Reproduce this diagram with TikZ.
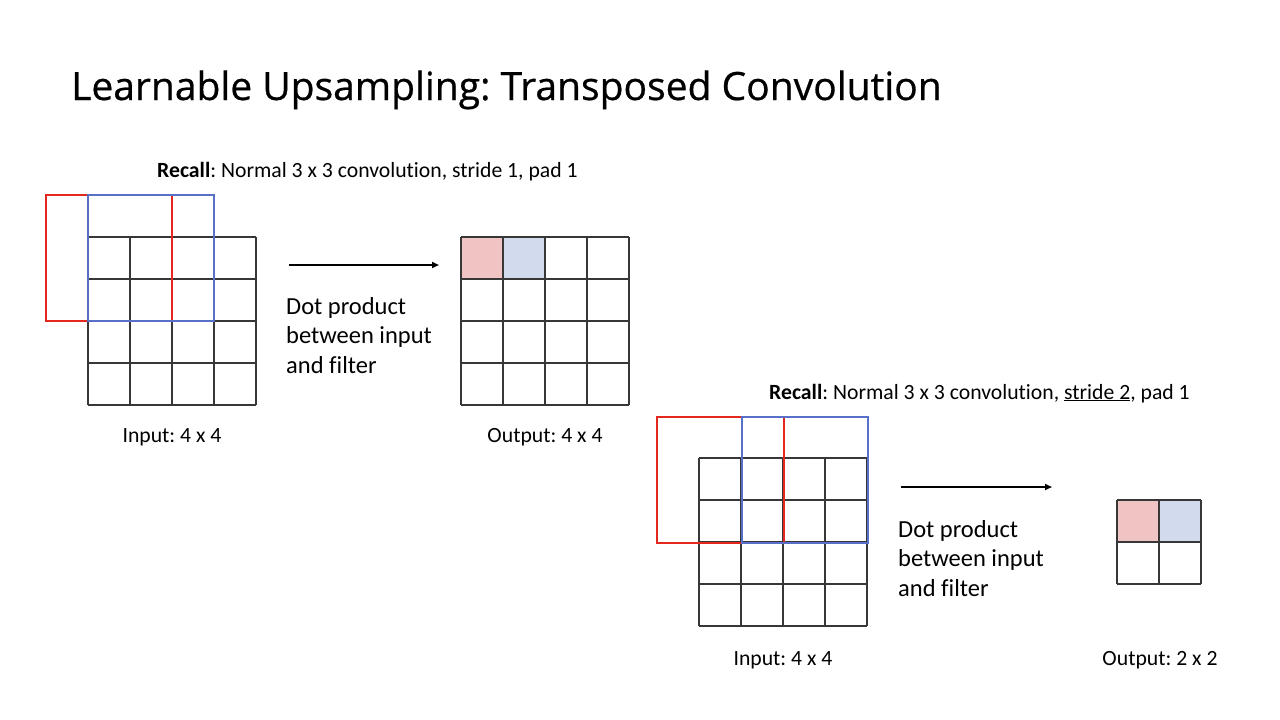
\documentclass[tikz,border=0pt]{standalone}
\usepackage{fontspec}
\setmainfont{Carlito}[Ligatures=NoCommon]
\newfontfamily\titlefont{Open Sans}[FakeBold=0.6]
\usetikzlibrary{arrows.meta,positioning}
\definecolor{FilterRed}{RGB}{228,40,30}
\definecolor{FilterBlue}{RGB}{88,112,200}
\definecolor{CellRed}{RGB}{241,196,196}
\definecolor{CellBlue}{RGB}{210,218,238}
\definecolor{GridGray}{RGB}{55,55,55}
\frenchspacing

\begin{document}
\begin{tikzpicture}[x=1pt, y=-1pt, font=\fontsize{21.7}{26}\selectfont]
  \useasboundingbox[fill=white] (0,0) rectangle (1280,720);

  % Title
  \node[anchor=base west, inner sep=0pt, font=\titlefont\fontsize{39}{44}\selectfont] (title) at (71,100) {Learnable Upsampling: Transposed Convolution};

  % ===== Stride 1 =====
  \node[anchor=base west, inner sep=0pt] (recallA) at (157,177) {\textbf{Recall}: Normal 3 x 3 convolution, stride 1, pad 1};

  % Input grid 4 x 4
  \begin{scope}[shift={(88,237)}]
    \foreach \i in {0,...,4} {
      \draw[GridGray, line width=1.1pt] (42*\i,0) -- (42*\i,168);
      \draw[GridGray, line width=1.1pt] (0,42*\i) -- (168,42*\i);
    }
  \end{scope}

  % Filter positions (padded)
  \draw[FilterRed, line width=2.2pt] (46,195) rectangle (172,321);
  \draw[FilterBlue, line width=2.2pt] (88,195) rectangle (214,321);

  % Output grid 4 x 4
  \begin{scope}[shift={(461,237)}]
    \fill[CellRed] (0,0) rectangle (42,42);
    \fill[CellBlue] (42,0) rectangle (84,42);
    \foreach \i in {0,...,4} {
      \draw[GridGray, line width=1.1pt] (42*\i,0) -- (42*\i,168);
      \draw[GridGray, line width=1.1pt] (0,42*\i) -- (168,42*\i);
    }
  \end{scope}

  % Arrow
  \coordinate (arrowAstart) at (289,265);
  \coordinate (arrowAend) at (439,265);
  \draw[-{Triangle[length=7pt,width=6pt]}, line width=1.8pt] (arrowAstart) -- (arrowAend);

  % Dot product text
  \node[anchor=base west, inner sep=0pt, font=\fontsize{24.5}{29.5}\selectfont] (dotA1) at (286,314) {Dot product};
  \node[anchor=base west, inner sep=0pt, font=\fontsize{24.5}{29.5}\selectfont] (dotA2) at ([yshift=-29.5pt]dotA1.base west) {between input};
  \node[anchor=base west, inner sep=0pt, font=\fontsize{24.5}{29.5}\selectfont] (dotA3) at ([yshift=-29.5pt]dotA2.base west) {and filter};

  % Labels
  \node[anchor=base, inner sep=0pt] (inputA) at (172,442) {Input: 4 x 4};
  \node[anchor=base, inner sep=0pt] (outputA) at (545,442) {Output: 4 x 4};

  % ===== Stride 2 =====
  \node[anchor=base west, inner sep=0pt] (recallB) at (769,399) {\textbf{Recall}: Normal 3 x 3 convolution, \underline{stride 2}, pad 1};

  % Input grid 4 x 4
  \begin{scope}[shift={(699,458)}]
    \foreach \i in {0,...,4} {
      \draw[GridGray, line width=1.1pt] (42*\i,0) -- (42*\i,168);
      \draw[GridGray, line width=1.1pt] (0,42*\i) -- (168,42*\i);
    }
  \end{scope}

  % Filter positions (padded, stride 2)
  \draw[FilterRed, line width=2.2pt] (657,417) rectangle (784,543);
  \draw[FilterBlue, line width=2.2pt] (742,417) rectangle (868,543);

  % Output grid 2 x 2
  \begin{scope}[shift={(1117,500)}]
    \fill[CellRed] (0,0) rectangle (42,42);
    \fill[CellBlue] (42,0) rectangle (84,42);
    \foreach \i in {0,...,2} {
      \draw[GridGray, line width=1.1pt] (42*\i,0) -- (42*\i,84);
      \draw[GridGray, line width=1.1pt] (0,42*\i) -- (84,42*\i);
    }
  \end{scope}

  % Arrow
  \coordinate (arrowBstart) at (901,487);
  \coordinate (arrowBend) at (1052,487);
  \draw[-{Triangle[length=7pt,width=6pt]}, line width=1.8pt] (arrowBstart) -- (arrowBend);

  % Dot product text
  \node[anchor=base west, inner sep=0pt, font=\fontsize{24.5}{29.5}\selectfont] (dotB1) at (898,537) {Dot product};
  \node[anchor=base west, inner sep=0pt, font=\fontsize{24.5}{29.5}\selectfont] (dotB2) at ([yshift=-29.5pt]dotB1.base west) {between input};
  \node[anchor=base west, inner sep=0pt, font=\fontsize{24.5}{29.5}\selectfont] (dotB3) at ([yshift=-29.5pt]dotB2.base west) {and filter};

  % Labels
  \node[anchor=base, inner sep=0pt] (inputB) at (783,665) {Input: 4 x 4};
  \node[anchor=base, inner sep=0pt] (outputB) at (1160,665) {Output: 2 x 2};
\end{tikzpicture}
\end{document}
